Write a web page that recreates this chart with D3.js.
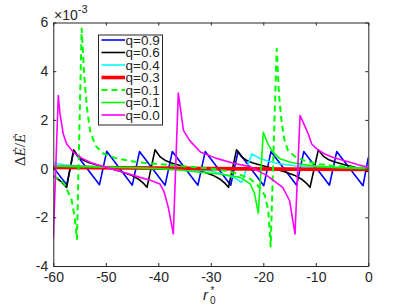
<!DOCTYPE html>
<html>
<head>
<meta charset="utf-8">
<script src="https://cdnjs.cloudflare.com/ajax/libs/d3/7.8.5/d3.min.js"></script>
<style>
  body { margin: 0; background: #ffffff; }
  text { font-family: "Liberation Sans", Arial, sans-serif; fill: #262626; }
</style>
</head>
<body>
<div class="chart"></div>
<script>

// Values in units of 1e-3
var xTicks = [-60, -50, -40, -30, -20, -10, 0];
var yTicks = [-4, -2, 0, 2, 4, 6];
var legendLabels = ["q=0.9", "q=0.6", "q=0.4", "q=0.3", "q=0.1", "q=0.1", "q=0.0"];

var q09X = [-60, -57.45, -56.1, -51.2, -49.83, -44.95, -43.58, -38.7, -37.33, -32.45, -31.07,
            -26.2, -24.81, -19.9, -18.55, -13.65, -12.29, -7.4, -6.02, -1.0, 0];
var q09Y = [0.05, -0.66, 0.71, -0.66, 0.71, -0.68, 0.70, -0.68, 0.70, -0.68, 0.70,
            -0.68, 0.70, -0.70, 0.70, -0.68, 0.70, -0.68, 0.70, -0.70, 0.46];

var q06X = [-60, -58.7, -57.45,
            -56.15, -55.15, -54.15, -53.15, -51.15, -49.15, -47.15, -45.15, -43.65, -42.75, -42.15,
            -40.63, -39.63, -38.63, -37.63, -35.63, -33.63, -31.63, -29.63, -28.13, -27.23, -26.63,
            -25.1, -24.1, -23.1, -22.1, -20.1, -18.1, -16.1, -14.1, -12.6, -11.7, -11.1,
            -9.52, -8.52, -7.52, -6.52, -4.52, -2.52, 0];
var q06Y = [-0.3, -0.5, -0.77,
            0.77, 0.48, 0.33, 0.24, 0.12, 0.0, -0.12, -0.27, -0.45, -0.62, -0.77,
            0.77, 0.48, 0.33, 0.24, 0.12, 0.0, -0.12, -0.27, -0.45, -0.62, -0.77,
            0.77, 0.48, 0.33, 0.24, 0.12, 0.0, -0.12, -0.27, -0.45, -0.62, -0.77,
            0.77, 0.5, 0.36, 0.28, 0.16, 0.05, -0.12];

var q04X = [-60, -58, -55, -50, -45, -40, -35, -30, -27.3, -25.5, -24.1, -22.2, -20.5, -19, -17, -14, -10, -5, 0];
var q04Y = [0.22, 0.16, 0.1, 0.06, 0.03, 0.01, -0.03, -0.1, -0.25, -0.38, -0.56, 0.6, 0.4, 0.3, 0.2, 0.12, 0.07, 0.04, 0.02];

var q03X = [-60, -45, -30, -15, 0];
var q03Y = [0.05, 0.03, 0.0, -0.02, -0.04];

var q01dX = [-60, -59, -58, -57.45, -56.5, -55.9, -55.5, -54.6, -54.1, -53.6, -53.0, -52.0, -50.5, -48,
             -45, -42, -38, -34, -30, -27, -25, -22.5, -21, -19.7, -19.05, -18.6, -17.45, -17.0,
             -16.5, -16.0, -15.3, -14.0, -12.5, -10, -7, -3, 0];
var q01dY = [-0.3, -0.42, -0.6, -0.83, -1.3, -2.05, -2.9, 5.75, 3.8, 2.5, 1.56, 0.95, 0.62, 0.42,
             0.3, 0.22, 0.15, 0.08, 0.0, -0.1, -0.2, -0.42, -0.7, -1.1, -1.72, -3.2, 4.92, 3.0,
             1.9, 1.2, 0.75, 0.5, 0.35, 0.2, 0.12, 0.05, 0.02];

var q01X = [-60, -55, -50, -45, -40, -36, -32.05, -28.25, -24.4, -22.5, -21.7, -20.95, -20.0, -19.2,
            -18.4, -16.8, -15, -13.0, -10, -6.67, -3, 0];
var q01Y = [0.1, 0.08, 0.06, 0.04, 0.0, -0.06, -0.15, -0.22, -0.36, -0.63, -1.0, -1.83, 1.49, 1.05,
            0.74, 0.4, 0.27, 0.19, 0.1, 0.05, 0.02, 0.0];

var q00X = [-60, -59.05, -58.72, -58.1, -57.45, -56.19, -54.5, -53.0, -51.5, -49.83, -46.67, -43.49,
            -41.5, -39.7, -38.9, -38.1, -37.14, -36.19, -35.2, -34.0, -32.0, -28.9, -25.7, -22.5,
            -19.3, -16.3, -15.0, -13.96, -13.0, -12.4, -11.43, -10.78, -9.83, -8.3, -6.67, -5.0,
            -3.5, -1.8, 0];
var q00Y = [-2.89, 3.0, 2.25, 1.42, 1.01, 0.67, 0.42, 0.26, 0.15, 0.05, -0.15, -0.36,
            -0.48, -0.63, -0.95, -1.59, -2.68, 3.1, 1.56, 1.15, 0.68, 0.42, 0.22, 0.08,
            -0.29, -0.77, -1.31, -2.68, 2.18, 1.9, 1.42, 1.01, 0.81, 0.6, 0.46, 0.35,
            0.26, 0.15, 0.05];

// Plot box in pixels
var plot = { left: 53.3, right: 368.3, top: 22.5, bottom: 266 };

var svg = d3.select(".chart")
    .append("svg")
      .attr("width", 407)
      .attr("height", 305);

var x = d3.scaleLinear()
    .domain([-60, 0])
    .range([plot.left, plot.right]);

var y = d3.scaleLinear()
    .domain([-4, 6])
    .range([plot.bottom, plot.top]);

svg.append("clipPath")
    .attr("id", "clip")
  .append("rect")
    .attr("x", plot.left)
    .attr("y", plot.top)
    .attr("width", plot.right - plot.left)
    .attr("height", plot.bottom - plot.top);

// Series, plotted in legend order
var series = [
    { xs: q09X, ys: q09Y, color: "#0000ff", width: 1.6, dash: null },
    { xs: q06X, ys: q06Y, color: "#000000", width: 1.6, dash: null },
    { xs: q04X, ys: q04Y, color: "#00ffff", width: 1.6, dash: null },
    { xs: q03X, ys: q03Y, color: "#ff0000", width: 3.6, dash: null },
    { xs: q01dX, ys: q01dY, color: "#00ff00", width: 2, dash: "6,4" },
    { xs: q01X, ys: q01Y, color: "#00ff00", width: 1.6, dash: null },
    { xs: q00X, ys: q00Y, color: "#ff00ff", width: 1.6, dash: null }
];

var line = d3.line()
    .x(function(d) { return x(d[0]); })
    .y(function(d) { return y(d[1]); });

svg.append("g")
    .attr("clip-path", "url(#clip)")
    .selectAll(".series")
    .data(series)
    .enter().append("path")
      .attr("class", "series")
      .attr("fill", "none")
      .attr("stroke", function(d) { return d.color; })
      .attr("stroke-width", function(d) { return d.width; })
      .attr("stroke-dasharray", function(d) { return d.dash; })
      .attr("stroke-linejoin", "round")
      .attr("d", function(d) { return line(d3.zip(d.xs, d.ys)); });

// Axes with inward ticks on all four sides
var fmt = function(d) { return String(d); };

svg.append("g")
    .attr("transform", "translate(0," + plot.bottom + ")")
    .call(d3.axisBottom(x).tickValues(xTicks).tickFormat(fmt)
        .tickSizeInner(-3).tickSizeOuter(0).tickPadding(6));

svg.append("g")
    .attr("transform", "translate(0," + plot.top + ")")
    .call(d3.axisTop(x).tickValues(xTicks).tickFormat("")
        .tickSizeInner(-3).tickSizeOuter(0));

svg.append("g")
    .attr("transform", "translate(" + plot.left + ",0)")
    .call(d3.axisLeft(y).tickValues(yTicks).tickFormat(fmt)
        .tickSizeInner(-3).tickSizeOuter(0).tickPadding(5));

svg.append("g")
    .attr("transform", "translate(" + plot.right + ",0)")
    .call(d3.axisRight(y).tickValues(yTicks).tickFormat("")
        .tickSizeInner(-3).tickSizeOuter(0));

svg.selectAll(".domain, .tick line")
    .attr("stroke", "#262626");

svg.selectAll(".tick text")
    .style("font-size", "14px")
    .style("font-family", "'Liberation Sans', Arial, sans-serif")
    .attr("fill", "#262626");

// Exponent label
var expo = svg.append("text")
    .attr("x", 54)
    .attr("y", 20)
    .style("font-size", "14px");
expo.append("tspan").text("\u00d710");
expo.append("tspan")
    .attr("dy", -7)
    .style("font-size", "11px")
    .text("-3");

// Axis labels
var yLab = svg.append("text")
    .attr("transform", "translate(25,150) rotate(-90)")
    .attr("text-anchor", "middle")
    .style("font-family", "'Liberation Serif', serif")
    .style("font-size", "15px");
yLab.append("tspan").text("\u0394");
yLab.append("tspan").style("font-style", "italic").text("\u0116");
yLab.append("tspan").text("/");
yLab.append("tspan").style("font-style", "italic").text("\u0116");

// r_0^* with sub and superscript stacked
var xLab = svg.append("g")
    .style("font-family", "'Liberation Serif', serif");
xLab.append("text")
    .attr("x", 203)
    .attr("y", 299.5)
    .style("font-size", "15px")
    .style("font-style", "italic")
    .text("r");
xLab.append("text")
    .attr("x", 210)
    .attr("y", 304)
    .style("font-size", "10px")
    .text("0");
xLab.append("text")
    .attr("x", 210.5)
    .attr("y", 293.5)
    .style("font-size", "10px")
    .text("*");

// Legend
var legend = svg.append("g");

legend.append("rect")
    .attr("x", 98.5)
    .attr("y", 35)
    .attr("width", 64)
    .attr("height", 90)
    .attr("fill", "#ffffff")
    .attr("stroke", "#262626")
    .attr("stroke-width", 1);

var rows = legend.selectAll(".row")
    .data(series)
    .enter().append("g")
      .attr("class", "row")
      .attr("transform", function(d, i) { return "translate(0," + (40 + i * 12.5) + ")"; });

rows.append("line")
    .attr("x1", 101.5)
    .attr("x2", 125)
    .attr("stroke", function(d) { return d.color; })
    .attr("stroke-width", function(d) { return d.width; })
    .attr("stroke-dasharray", function(d) { return d.dash; });

rows.append("text")
    .attr("x", 125.5)
    .attr("dy", "0.36em")
    .style("font-size", "13.5px")
    .text(function(d, i) { return legendLabels[i]; });

</script>
</body>
</html>
